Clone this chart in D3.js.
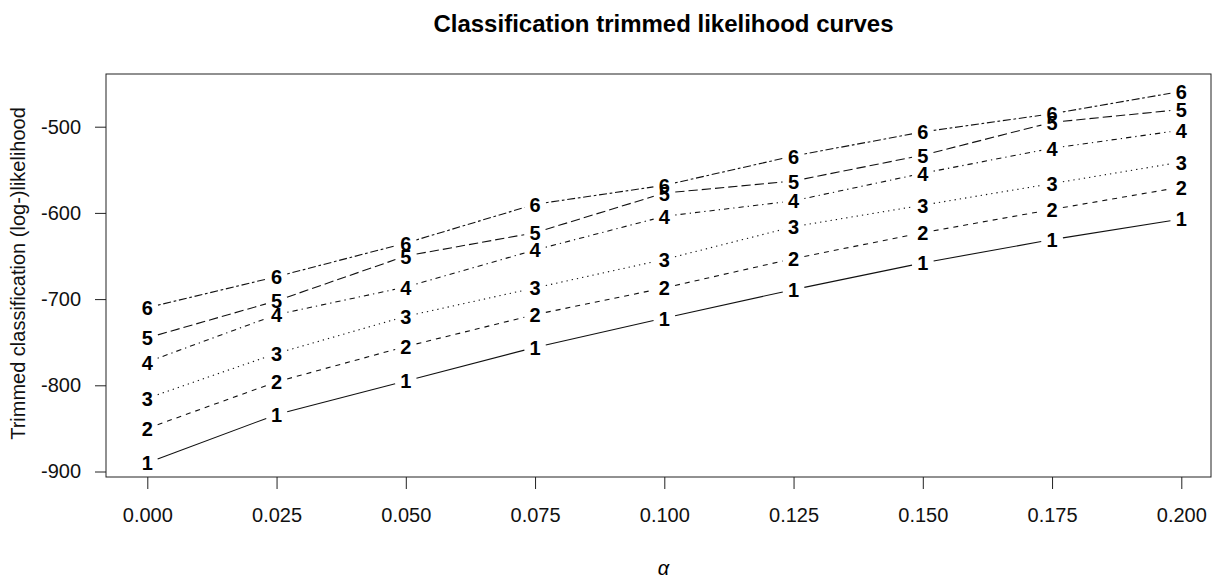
<!DOCTYPE html>
<html>
<head>
<meta charset="utf-8">
<script src="https://cdn.jsdelivr.net/npm/d3@7"></script>
<style>
  body { margin: 0; background: #fff; }
  svg { display: block; font-family: "Liberation Sans", Arial, sans-serif; }
</style>
</head>
<body>
<svg id="chart" width="1217" height="579"></svg>
<script>
// trimming levels (alpha)
const alphas = [0.000, 0.025, 0.050, 0.075, 0.100, 0.125, 0.150, 0.175, 0.200];
const groups = ["1", "2", "3", "4", "5", "6"];

// trimmed classification log-likelihood for k = 1..6
const k1 = [-890, -834, -795, -756, -722, -689, -658, -631, -607];
const k2 = [-850, -796, -755, -718, -687, -653, -623, -596, -570];
const k3 = [-815, -763, -720, -687, -654, -616, -591, -566, -541];
const k4 = [-773, -718, -686, -643, -604, -586, -554, -525, -504];
const k5 = [-745, -702, -650, -623, -577, -563, -533, -495, -480];
const k6 = [-710, -674, -635, -590, -568, -534, -506, -485, -459];
const series = [k1, k2, k3, k4, k5, k6];

const yTicks = [-900, -800, -700, -600, -500];

// R lty 1..6
const dashes = [null, "5,5", "1.3,4", "1.3,4,5.3,4", "9.3,4", "2.7,2.7,8,2.7"];

const svg = d3.select("#chart");
const plotLeft = 106, plotRight = 1211, plotTop = 74, plotBottom = 477;

const x = d3.scaleLinear().domain([0, 0.2]).range([147.3, 1181.3]);
const y = d3.scaleLinear().domain([-900, -500]).range([471.5, 126.7]);

// frame
svg.append("rect")
    .attr("x", plotLeft).attr("y", plotTop)
    .attr("width", plotRight - plotLeft).attr("height", plotBottom - plotTop)
    .attr("fill", "none").attr("stroke", "#222").attr("stroke-width", 1);

// x axis
const xAxis = svg.append("g")
    .attr("transform", "translate(0," + plotBottom + ")")
    .call(d3.axisBottom(x).tickValues(alphas).tickSize(12).tickPadding(19).tickFormat(d => d.toFixed(3)));
xAxis.select(".domain").remove();
xAxis.selectAll("line").attr("stroke", "#222");
xAxis.selectAll("text").attr("font-size", 20).attr("fill", "#111").attr("font-family", "Liberation Sans, Arial, sans-serif");

// y axis (plain hyphen minus, like R)
const yAxis = svg.append("g")
    .attr("transform", "translate(" + plotLeft + ",0)")
    .call(d3.axisLeft(y).tickValues(yTicks).tickSize(11).tickPadding(14).tickFormat(d => String(d)));
yAxis.select(".domain").remove();
yAxis.selectAll("line").attr("stroke", "#222");
yAxis.selectAll("text").attr("font-size", 20).attr("fill", "#111").attr("font-family", "Liberation Sans, Arial, sans-serif");

// titles
svg.append("text")
    .attr("x", (plotLeft + plotRight) / 2 + 5).attr("y", 32)
    .attr("text-anchor", "middle").attr("font-size", 24).attr("font-weight", "bold")
    .text("Classification trimmed likelihood curves");

svg.append("text")
    .attr("x", (plotLeft + plotRight) / 2 + 5).attr("y", 575)
    .attr("text-anchor", "middle").attr("font-size", 20).attr("font-style", "italic")
    .text("α");

svg.append("text")
    .attr("transform", "translate(25," + ((plotTop + plotBottom) / 2 - 2) + ") rotate(-90)")
    .attr("text-anchor", "middle").attr("font-size", 20).attr("fill", "#111")
    .text("Trimmed classification (log-)likelihood");

// type = "b": segments with a gap around each label
const gap = 11;
series.forEach((vals, i) => {
    const pts = vals.map((v, j) => [x(alphas[j]), y(v)]);
    const segs = d3.pairs(pts).map(([a, b]) => {
        const dx = b[0] - a[0], dy = b[1] - a[1];
        const len = Math.sqrt(dx * dx + dy * dy);
        const ux = dx / len, uy = dy / len;
        return [[a[0] + ux * gap, a[1] + uy * gap], [b[0] - ux * gap, b[1] - uy * gap]];
    });
    svg.append("g").selectAll("line")
        .data(segs)
        .join("line")
        .attr("x1", d => d[0][0]).attr("y1", d => d[0][1])
        .attr("x2", d => d[1][0]).attr("y2", d => d[1][1])
        .attr("stroke", "#111").attr("stroke-width", 1.1)
        .attr("stroke-dasharray", dashes[i]);

    svg.append("g").selectAll("text")
        .data(vals)
        .join("text")
        .attr("x", (d, j) => x(alphas[j]))
        .attr("y", d => y(d) + 7.5)
        .attr("text-anchor", "middle")
        .attr("font-size", 20).attr("font-weight", "bold")
        .text(groups[i]);
});
</script>
</body>
</html>
